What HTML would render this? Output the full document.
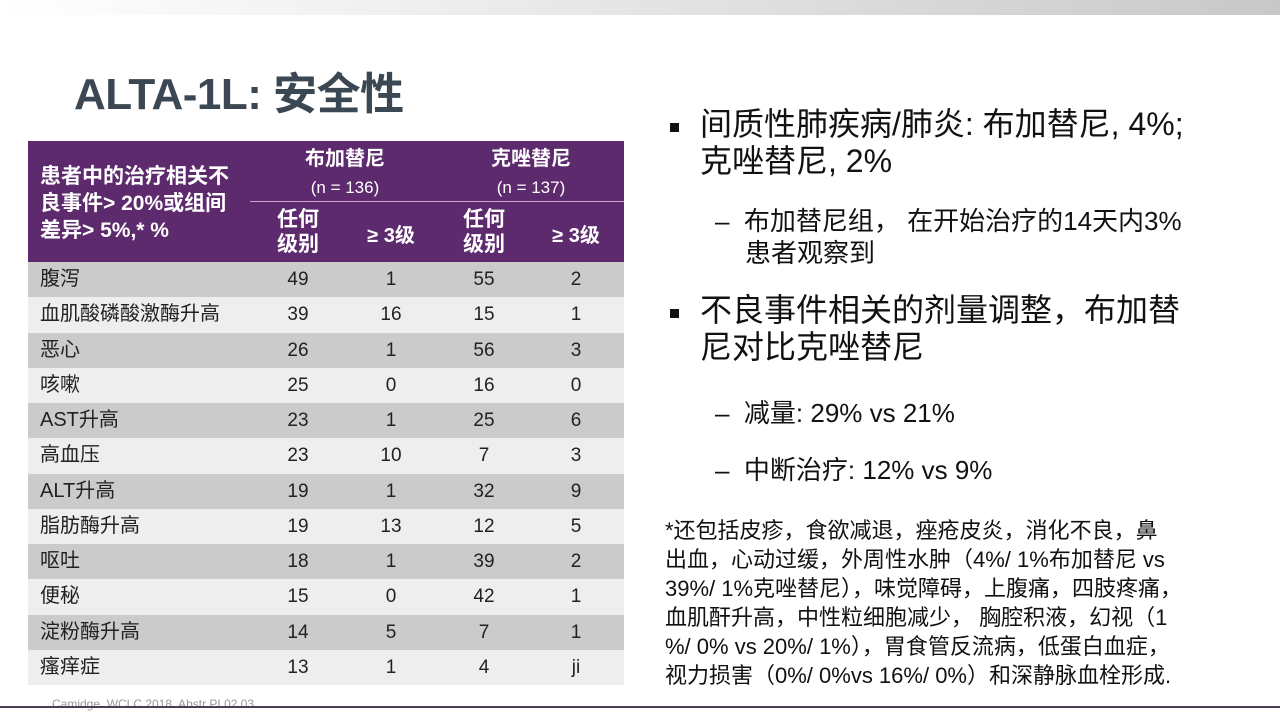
<!DOCTYPE html>
<html><head><meta charset="utf-8"><style>
*{margin:0;padding:0;box-sizing:border-box}
body{width:1280px;height:720px;background:#fff;position:relative;overflow:hidden;font-family:"Liberation Sans","Noto Sans CJK SC",sans-serif}
.topbar{position:absolute;left:0;top:0;width:1280px;height:15px;background:linear-gradient(90deg,#fff 0%,#f0f0f0 30%,#c8c8c8 100%)}
.title{position:absolute;left:74px;top:58px;font-size:44px;font-weight:bold;color:#3b4752;letter-spacing:-0.5px}
.hdr{position:absolute;left:28px;top:141px;width:596px;height:121px;background:#5e2a6e;color:#fff;font-weight:bold}
.hdr div{position:absolute;text-align:center}
.row{position:absolute;left:28px;width:596px;height:35.25px;font-size:19px;color:#222}
.row span{position:absolute;top:0;line-height:35px}
.r{position:absolute;left:670px;color:#111;font-size:32px;white-space:nowrap}
.s{font-size:26px}
.b{position:absolute;left:670px;width:9px;height:9px;background:#111}
.fn{position:absolute;left:665px;top:516px;width:615px;font-size:22px;line-height:29px;color:#111;white-space:nowrap}
</style></head><body>
<div class="topbar"></div>
<div class="title">ALTA-1L: 安全性</div>
<div class="hdr">
<div style="left:12px;top:22px;text-align:left;font-size:21px;line-height:27px;white-space:nowrap">患者中的治疗相关不<br>良事件&gt; 20%或组间<br>差异&gt; 5%,* %</div>
<div style="left:222px;top:4px;width:190px;font-size:20px;line-height:28px">布加替尼<br><span style="font-weight:normal;font-size:17px">(n = 136)</span></div>
<div style="left:408px;top:4px;width:190px;font-size:20px;line-height:28px">克唑替尼<br><span style="font-weight:normal;font-size:17px">(n = 137)</span></div>
<div style="left:222px;top:60px;width:374px;height:1px;background:#c9a6d4"></div>
<div style="left:240px;top:66px;width:60px;font-size:21px;line-height:25px">任何<br>级别</div>
<div style="left:330px;top:78px;width:66px;font-size:20px">≥ 3级</div>
<div style="left:426px;top:66px;width:60px;font-size:21px;line-height:25px">任何<br>级别</div>
<div style="left:515px;top:78px;width:66px;font-size:20px">≥ 3级</div>
</div>
<div id="rows"></div>
<div class="b" style="top:123px"></div>
<div class="r" style="left:700px;top:106px;line-height:37px">间质性肺疾病/肺炎: 布加替尼, 4%;<br>克唑替尼, 2%</div>
<div class="r s" style="left:715px;top:205px;line-height:32px">–&nbsp;&nbsp;布加替尼组，&nbsp;在开始治疗的14天内3%</div>
<div class="r s" style="left:745px;top:237px;line-height:32px">患者观察到</div>
<div class="b" style="top:309px"></div>
<div class="r" style="left:700px;top:292px;line-height:37px">不良事件相关的剂量调整，布加替<br>尼对比克唑替尼</div>
<div class="r s" style="left:715px;top:393px">–&nbsp;&nbsp;减量: 29% vs 21%</div>
<div class="r s" style="left:715px;top:450px">–&nbsp;&nbsp;中断治疗: 12% vs 9%</div>
<div class="fn">*还包括皮疹，食欲减退，痤疮皮炎，消化不良，鼻<br>出血，心动过缓，外周性水肿（4%/ 1%布加替尼 vs<br>39%/ 1%克唑替尼），味觉障碍，上腹痛，四肢疼痛，<br>血肌酐升高，中性粒细胞减少，&nbsp;胸腔积液，幻视（1<br>%/ 0% vs 20%/ 1%），胃食管反流病，低蛋白血症，<br>视力损害（0%/ 0%vs 16%/ 0%）和深静脉血栓形成.</div>
<div style="position:absolute;left:52px;top:697px;font-size:12px;color:#999">Camidge. WCLC 2018. Abstr PL02.03.</div>
<div style="position:absolute;left:0;top:706px;width:1280px;height:2px;background:#4d3d52"></div>
<script>
var d=[["腹泻",49,1,55,2],["血肌酸磷酸激酶升高",39,16,15,1],["恶心",26,1,56,3],["咳嗽",25,0,16,0],["AST升高",23,1,25,6],["高血压",23,10,7,3],["ALT升高",19,1,32,9],["脂肪酶升高",19,13,12,5],["呕吐",18,1,39,2],["便秘",15,0,42,1],["淀粉酶升高",14,5,7,1],["瘙痒症",13,1,4,"ji"]];
var h="",cx=[270,363,456,548];
d.forEach(function(r,i){h+='<div class="row" style="top:'+(262+i*35.25)+'px;background:'+(i%2?'#eeeeee':'#cbcbcb')+'"><span style="left:12px;font-size:20px;white-space:nowrap">'+r[0]+'</span>';
for(var j=1;j<5;j++)h+='<span style="left:'+(cx[j-1]-30)+'px;width:60px;text-align:center">'+r[j]+'</span>';h+='</div>';});
document.getElementById("rows").innerHTML=h;
</script>
</body></html>
